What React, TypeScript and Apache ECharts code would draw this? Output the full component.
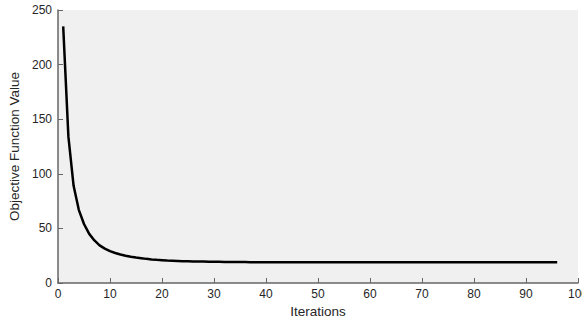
import React, { useEffect, useRef } from "react";
import * as echarts from "echarts";

const xTicks = [0, 10, 20, 30, 40, 50, 60, 70, 80, 90, 100];
const yTicks = [0, 50, 100, 150, 200, 250];
const objectiveValues = [
  235, 134, 89, 67, 54, 45, 39, 34.5, 31.5, 29.2,
  27.5, 26.1, 25.0, 24.1, 23.3, 22.7, 22.1, 21.6, 21.2, 20.9,
  20.6, 20.4, 20.2, 20.0, 19.9, 19.8, 19.7, 19.6, 19.5, 19.4,
  19.4, 19.3, 19.3, 19.2, 19.2, 19.2, 19.1, 19.1, 19.1, 19.1,
  19.0, 19.0, 19.0, 19.0, 19.0, 19.0, 19.0, 19.0, 19.0, 19.0,
  19.0, 19.0, 19.0, 19.0, 19.0, 19.0, 19.0, 19.0, 19.0, 19.0,
  19.0, 19.0, 19.0, 19.0, 19.0, 19.0, 19.0, 19.0, 19.0, 19.0,
  19.0, 19.0, 19.0, 19.0, 19.0, 19.0, 19.0, 19.0, 19.0, 19.0,
  19.0, 19.0, 19.0, 19.0, 19.0, 19.0, 19.0, 19.0, 19.0, 19.0,
  19.0, 19.0, 19.0, 19.0, 19.0, 19.0,
];

const FONT = "'Liberation Sans', Arial, Helvetica, sans-serif";

export default function App() {
  const ref = useRef<HTMLDivElement>(null);
  useEffect(() => {
    document.body.style.margin = "0";
    if (!ref.current) return;
    const chart = echarts.init(ref.current, null, { renderer: "svg" });
    const data = objectiveValues.map((v, i) => [i + 1, v]);
    chart.setOption({
      animation: false,
      backgroundColor: "#ffffff",
      grid: {
        left: 58,
        top: 10,
        right: 4,
        bottom: 40,
        containLabel: false,
        outerBoundsMode: "none",
        show: true,
        backgroundColor: "#f0f0f0",
        borderWidth: 0,
      },
      xAxis: {
        type: "value",
        min: xTicks[0],
        max: xTicks[xTicks.length - 1],
        interval: 10,
        name: "Iterations",
        nameLocation: "middle",
        nameGap: 21,
        nameTextStyle: { fontFamily: FONT, fontSize: 13.5, color: "#262626" },
        axisLine: { show: true, lineStyle: { color: "#666666", width: 1.5 } },
        axisTick: { show: true, inside: true, length: 5, lineStyle: { color: "#666666" } },
        axisLabel: { fontFamily: FONT, fontSize: 12, color: "#262626", margin: 5, hideOverlap: false },
        splitLine: { show: false },
      },
      yAxis: {
        type: "value",
        min: yTicks[0],
        max: yTicks[yTicks.length - 1],
        interval: 50,
        name: "Objective Function Value",
        nameLocation: "middle",
        nameGap: 32,
        nameTextStyle: { fontFamily: FONT, fontSize: 13.5, color: "#262626" },
        axisLine: { show: true, lineStyle: { color: "#666666", width: 1.5 } },
        axisTick: { show: true, inside: true, length: 5, lineStyle: { color: "#666666" } },
        axisLabel: { fontFamily: FONT, fontSize: 12, color: "#262626", margin: 6 },
        splitLine: { show: false },
      },
      series: [
        {
          type: "line",
          data,
          showSymbol: false,
          symbol: "none",
          lineStyle: { color: "#000000", width: 2.5 },
          smooth: false,
        },
      ],
    });
    return () => chart.dispose();
  }, []);
  return <div ref={ref} style={{ width: 582, height: 323 }} />;
}
